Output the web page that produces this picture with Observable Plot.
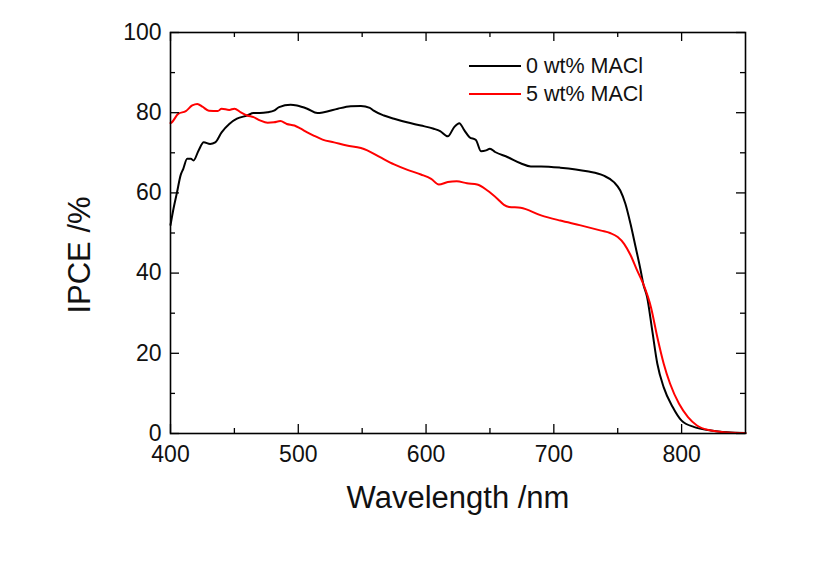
<!DOCTYPE html>
<html>
<head>
<meta charset="utf-8">
<script src="https://cdn.jsdelivr.net/npm/d3@7"></script>
<script src="https://cdn.jsdelivr.net/npm/@observablehq/plot@0.6"></script>
<style>
  html, body { margin: 0; padding: 0; background: #fff; }
  #wrap { position: relative; width: 814px; height: 569px; font-family: "Liberation Sans", Arial, sans-serif; }
  #legend { position: absolute; left: 469px; top: 52px; }
  .row { display: flex; align-items: center; height: 28px; }
  .row svg { width: 52px; height: 6px; margin-right: 5px; }
  .row span { font-size: 21.5px; color: #111; }
</style>
</head>
<body>
<div id="wrap"><div id="legend"></div></div>
<script>
// ---- data ----
const seriesNames = ["0 wt% MACl", "5 wt% MACl"];
const seriesColors = ["#000000", "#ff0000"];

const wl0 = [400,402,405,408,410,413,416,418,422,426,431,435,440,446,452,460,465,470,476,481,485,494,499,507,515,520,531,541,549,556,559,567,575,585,596,606,611,617,622,626,630,634,639,643,647,650,654,664,674,682,690,705,726,739,747,752,756,760,764,768,770,773,777,781,786,793,800,810,823,836,850];
const ipce0 = [52,55.5,60,64.5,66,68.5,68.5,68.1,70.6,72.6,72.2,72.6,75.1,77.2,78.5,79.3,79.9,79.9,80.1,80.5,81.4,82.0,81.8,81.0,79.9,80.1,81.0,81.6,81.7,81.2,80.5,79.3,78.5,77.6,76.8,76.0,75.4,74.1,76.4,77.4,75.6,73.9,73.2,70.4,70.6,71.0,70.2,68.9,67.4,66.6,66.6,66.3,65.4,64.3,62.7,60.6,57.3,52.3,46.5,40.6,37.3,34,25.7,17.4,11.5,6.6,3.2,1.6,0.75,0.3,0.1];

const wl5 = [400,401,406,412,417,421,425,430,437,440,446,450,455,460,465,470,476,481,486,491,497,502,507,512,519,528,538,549,554,564,575,585,596,604,610,617,624,632,640,648,656,661,665,674,690,705,721,737,744,750,755,760,765,770,776,781,786,791,798,805,812,823,836,850];
const ipce5 = [77.4,77.6,79.7,80.4,81.8,82.2,81.5,80.5,80.4,81.0,80.7,81.0,80.1,79.3,78.9,78.1,77.5,77.6,77.9,77.2,76.8,76.0,75.1,74.3,73.3,72.6,71.8,71.2,70.6,68.9,67.1,65.8,64.6,63.5,62.1,62.7,62.9,62.4,62.1,60.6,58.5,57.0,56.5,56.3,54.4,53.1,51.9,50.6,50.0,49.0,47.3,44.5,40.8,37.3,31.5,24.0,17.4,12.4,7.4,4.1,2.0,0.75,0.25,0.1];

const xMajor = [400,500,600,700,800];
const xMinor = [450,550,650,750];
const yMajor = [0,20,40,60,80,100];
const yMinor = [10,30,50,70,90];

const xTitle = "Wavelength /nm";
const yTitle = "IPCE /%";

// ---- build ----
const series0 = wl0.map((w, i) => ({w, v: ipce0[i], s: seriesNames[0]}));
const series5 = wl5.map((w, i) => ({w, v: ipce5[i], s: seriesNames[1]}));

const W = 814, H = 569, mL = 170, mR = 69, mT = 32, mB = 136;
const fw = W - mL - mR, fh = H - mT - mB;
const MAJ = 9, MIN = 5;

const chart = Plot.plot({
  width: W, height: H,
  marginLeft: mL, marginRight: mR, marginTop: mT, marginBottom: mB,
  style: {fontFamily: "'Liberation Sans', Arial, sans-serif", background: "#fff"},
  x: {domain: [400, 850]},
  y: {domain: [0, 100]},
  marks: [
    Plot.line(series0, {x: "w", y: "v", stroke: seriesColors[0], strokeWidth: 2, curve: "monotone-x"}),
    Plot.line(series5, {x: "w", y: "v", stroke: seriesColors[1], strokeWidth: 2, curve: "monotone-x"}),
    // inward ticks: bottom / top
    Plot.tickX(xMajor, {x: d => d, insetTop: fh - MAJ, stroke: "#000", strokeWidth: 1.3}),
    Plot.tickX(xMinor, {x: d => d, insetTop: fh - MIN, stroke: "#000", strokeWidth: 1.3}),
    Plot.tickX(xMajor, {x: d => d, insetBottom: fh - MAJ, stroke: "#000", strokeWidth: 1.3}),
    Plot.tickX(xMinor, {x: d => d, insetBottom: fh - MIN, stroke: "#000", strokeWidth: 1.3}),
    // inward ticks: left / right
    Plot.tickY(yMajor, {y: d => d, insetRight: fw - MAJ, stroke: "#000", strokeWidth: 1.3}),
    Plot.tickY(yMinor, {y: d => d, insetRight: fw - MIN, stroke: "#000", strokeWidth: 1.3}),
    Plot.tickY(yMajor, {y: d => d, insetLeft: fw - MAJ, stroke: "#000", strokeWidth: 1.3}),
    Plot.tickY(yMinor, {y: d => d, insetLeft: fw - MIN, stroke: "#000", strokeWidth: 1.3}),
    Plot.axisX(xMajor, {tickSize: 0, tickPadding: 12, fontSize: 23, fill: "#111", label: null}),
    Plot.axisY(yMajor, {tickSize: 0, tickPadding: 9, fontSize: 23, fill: "#111", label: null}),
    Plot.frame({stroke: "#000", strokeWidth: 1.6}),
    Plot.text([xTitle], {frameAnchor: "bottom", dy: 65, fontSize: 31, fill: "#111", textAnchor: "middle", lineAnchor: "middle"}),
    Plot.text([yTitle], {frameAnchor: "left", dx: -90, dy: 22, rotate: -90, fontSize: 31, fill: "#111", textAnchor: "middle", lineAnchor: "middle"})
  ]
});
document.getElementById("wrap").prepend(chart);

const legend = document.getElementById("legend");
seriesNames.forEach((n, i) => {
  const row = document.createElement("div");
  row.className = "row";
  row.innerHTML = `<svg viewBox="0 0 52 6"><line x1="0" x2="52" y1="3" y2="3" stroke="${seriesColors[i]}" stroke-width="2"/></svg><span>${n}</span>`;
  legend.appendChild(row);
});
</script>
</body>
</html>
